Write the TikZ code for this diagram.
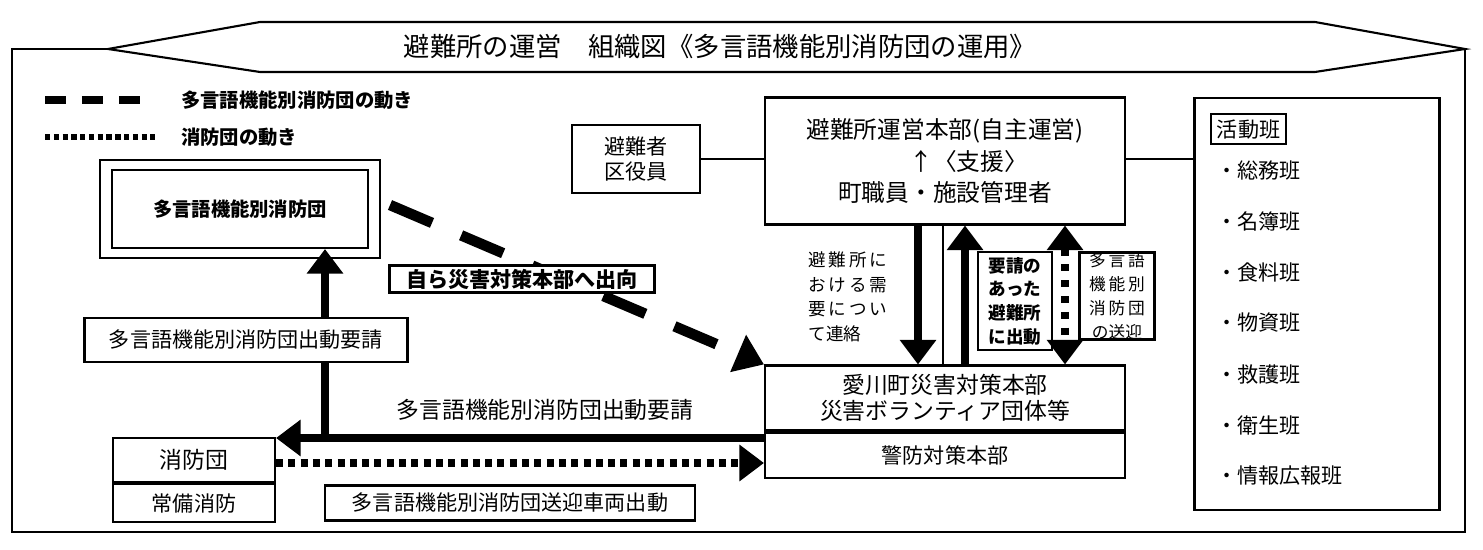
\documentclass[tikz,border=0pt]{standalone}
\usepackage{fontspec}
\newfontfamily\jfont{Noto Sans CJK JP}
\usetikzlibrary{arrows.meta,positioning,calc}
\tikzset{
  box/.style={draw,line width=1.2pt,inner sep=0pt},
  lbl/.style={font=\jfont\fontsize{12pt}{14pt}\selectfont,align=center},
  blbl/.style={font=\jfont\bfseries\fontsize{11pt}{13pt}\selectfont,align=center},
  fat/.style={line width=5pt,-{Triangle[length=14pt,width=20pt]}},
}
\begin{document}
\begin{tikzpicture}[x=0.02cm,y=-0.02cm]
    \useasboundingbox (0,0) rectangle (1483,550);
    % title and frame
    \draw[line width=1.2pt] (108,49) -- (260,22) -- (1315,22) -- (1465,49) -- (1315,72) -- (260,72) -- cycle;
    \draw[line width=1.2pt] (108,49) -- (12,49) -- (12,532) -- (1465,532) -- (1465,49);
    \node[lbl,font=\jfont\fontsize{15pt}{17pt}\selectfont] (title) at (720,47) {避難所の運営\quad 組織図《多言語機能別消防団の運用》};

    % legend
    \coordinate (la) at (45,100); \coordinate (lb) at (152,100);
    \draw[line width=4pt,dash pattern=on 12pt off 9pt] (la) -- (lb);
    \node[blbl,anchor=west] (leg1) at (175,100) {多言語機能別消防団の動き};
    \coordinate (lc) at (45,137); \coordinate (ld) at (155,137);
    \draw[line width=3pt,dash pattern=on 3pt off 2pt] (lc) -- (ld);
    \node[blbl,anchor=west] (leg2) at (175,137) {消防団の動き};

    % boxes
    \node[box,minimum width=5.12cm,minimum height=1.56cm,blbl] (ml) at (240,209) {多言語機能別消防団};
    \draw[line width=1.2pt] (100,160) rectangle (380,258);
    \node[box,lbl,minimum width=2.56cm,minimum height=1.36cm] (hn) at (636,159) {避難者\\区役員};
    \node[box,lbl,minimum width=7.2cm,minimum height=2.54cm,font=\jfont\fontsize{13.5pt}{18pt}\selectfont] (hq) at (945,161) {避難所運営本部(自主運営)\\\hspace{2em}↑〈支援〉\\町職員・施設管理者};
    \node[box,minimum width=4.9cm,minimum height=8.24cm] (act) at (1317,304) {};
    \node[box,lbl,anchor=north west,minimum width=1.5cm,minimum height=0.6cm] (actt) at (1210,113) {活動班};
    \foreach \t [count=\i] in {総務班,名簿班,食料班,物資班,救護班,衛生班,情報広報班}
        \node[lbl,anchor=west] (g\i) at (1210,119+51*\i) {・\t};
    \node[box,lbl,minimum width=7.2cm,minimum height=1.3cm,font=\jfont\fontsize{13pt}{15pt}\selectfont] (ai) at (945,398) {愛川町災害対策本部\\災害ボランティア団体等};
    \node[box,lbl,minimum width=7.2cm,minimum height=0.9cm,below=0pt of ai] (kb) {警防対策本部};
    \node[box,lbl,minimum width=3.24cm,minimum height=0.88cm,font=\jfont\fontsize{13pt}{15pt}\selectfont] (sb) at (194,460) {消防団};
    \node[box,lbl,minimum width=3.24cm,minimum height=0.76cm,below=0pt of sb] (jb) {常備消防};

    % connectors
    \draw[line width=0.8pt] (hn.east) -- (hq.west |- hn.east);
    \draw[line width=0.8pt] (hq.east |- hn.east) -- (act.west |- hn.east);
    \draw[fat] (sb.north -| 325,0) -- (ml.south -| 325,0);
    \node[box,lbl,fill=white,minimum width=6.46cm,minimum height=0.88cm] (rq1) at (246,340) {多言語機能別消防団出動要請};
    \draw[fat] (ai.south west |- 0,438) -- (sb.east |- 0,438);
    \node[lbl,font=\jfont\fontsize{13pt}{15pt}\selectfont] (rq2) at (545,410) {多言語機能別消防団出動要請};
    \draw[line width=5pt,dash pattern=on 4pt off 3pt,-{Triangle[length=14pt,width=20pt]}] (sb.east |- 0,463) -- (kb.west |- 0,463);
    \node[box,lbl,minimum width=7.4cm,minimum height=0.7cm] (car) at (510,503) {多言語機能別消防団送迎車両出動};
    \draw[line width=6pt,dash pattern=on 26pt off 18pt,-{Triangle[length=16pt,width=22pt]}] (390,205) -- (ai.north west);
    \node[box,blbl,fill=white,minimum width=5.3cm,minimum height=0.54cm,font=\jfont\bfseries\fontsize{12pt}{14pt}\selectfont] (self) at (522,279) {自ら災害対策本部へ出向};
    \draw[fat] (hq.south -| 918,0) -- (ai.north -| 918,0);
    \node[lbl,font=\jfont\fontsize{10pt}{14pt}\selectfont,align=left] (nd) at (848,297) {避\,難\,所\,に\\お\,け\,る\,需\\要\,に\,つ\,い\\て連絡};
    \draw[line width=0.8pt] (hq.south -| 943,0) -- (ai.north -| 943,0);
    \draw[fat] (ai.north -| 965,0) -- (hq.south -| 965,0);
    \node[box,blbl,fill=white,minimum width=1.48cm,minimum height=1.96cm,font=\jfont\bfseries\fontsize{10pt}{13.5pt}\selectfont] (go) at (1015,301) {要請の\\あった\\避難所\\に出動};
    \draw[line width=5pt,dash pattern=on 4pt off 5pt,{Triangle[length=14pt,width=20pt]}-{Triangle[length=14pt,width=20pt]}] (hq.south -| 1065,0) -- (ai.north -| 1065,0);
    \node[box,lbl,fill=white,minimum width=1.5cm,minimum height=1.74cm,font=\jfont\fontsize{9.5pt}{13.5pt}\selectfont] (sg) at (1117,296) {多\,言\,語\\機\,能\,別\\消\,防\,団\\の送迎};
\end{tikzpicture}
\end{document}
